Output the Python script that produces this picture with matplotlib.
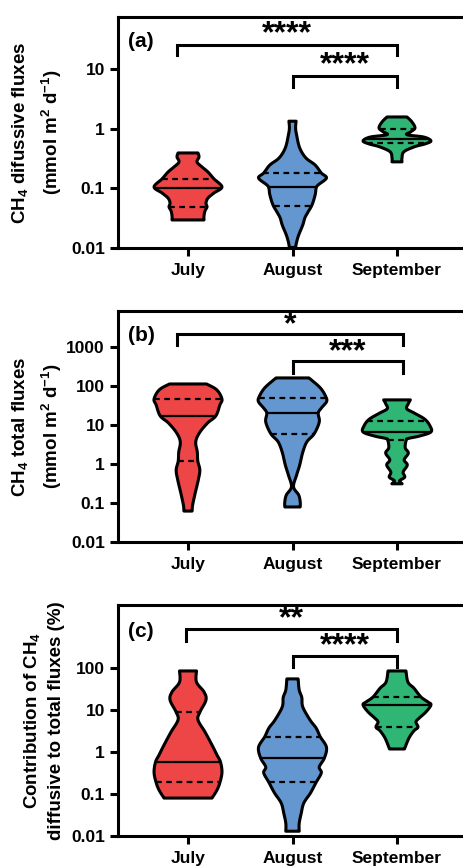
import numpy as np
import matplotlib.pyplot as plt
from matplotlib.ticker import FixedLocator, FixedFormatter, NullLocator

plt.rcParams['font.family'] = 'Liberation Sans'
plt.rcParams['font.weight'] = 'bold'
plt.rcParams['mathtext.fontset'] = 'custom'
plt.rcParams['mathtext.bf'] = 'Liberation Sans:bold'
plt.rcParams['mathtext.rm'] = 'Liberation Sans:bold'
plt.rcParams['mathtext.default'] = 'bf'

months = ['July', 'August', 'September']
colors = ['#EE4646', '#6497D0', '#2FB574']

# violin outlines: value levels and relative width (density) at each level
# (a) diffusive fluxes
a_jul_v = [0.395, 0.338, 0.279, 0.230, 0.189, 0.145, 0.106, 0.084, 0.069, 0.057, 0.049, 0.042, 0.0345, 0.0296]
a_jul_w = [10, 11, 9, 14, 20, 26, 34, 26, 20, 18, 19, 17, 16, 16]
a_aug_v = [1.35, 1.04, 0.79, 0.48, 0.326, 0.248, 0.182, 0.150, 0.115, 0.102, 0.078, 0.053, 0.040, 0.032, 0.0244, 0.0165, 0.0126, 0.0102]
a_aug_w = [3.5, 3, 4, 7, 13, 22, 28, 33, 25, 23, 22, 19, 15, 12, 10, 6, 4, 3]
a_sep_v = [1.59, 1.31, 1.04, 0.90, 0.80, 0.73, 0.63, 0.56, 0.505, 0.415, 0.326, 0.28]
a_sep_w = [10, 15, 18, 14, 10, 27, 34, 28, 18, 7, 5, 5]
a_median = [0.10, 0.107, 0.68]
a_q1 = [0.049, 0.05, 0.575]
a_q3 = [0.145, 0.18, 0.98]

# (b) total fluxes
b_jul_v = [112, 79, 46, 32.6, 17, 11.2, 6.2, 3.66, 2.03, 1.19, 0.70, 0.39, 0.18, 0.089, 0.062]
b_jul_w = [18, 28, 33, 31, 27, 19, 11, 7.5, 9, 9.5, 11.5, 10, 7, 4.5, 4]
b_aug_v = [160, 89, 52, 39, 27, 20, 11.9, 5.9, 3.7, 2.0, 0.94, 0.52, 0.26, 0.16, 0.106, 0.079]
b_aug_w = [16, 27, 32.5, 33, 28, 25, 26, 21, 14, 10, 7, 4, 1, 6, 7.5, 7.5]
b_sep_v = [43.8, 35, 26, 20, 14, 9.5, 6.6, 5.2, 4.5, 4.1, 2.6, 1.9, 1.27, 0.94, 0.62, 0.46, 0.37, 0.31]
b_sep_w = [13, 11, 9.5, 17, 27, 32, 33, 22, 11, 9, 8, 11, 7, 10, 6, 7.5, 2.5, 5]
b_median = [17, 20, 6.6]
b_q1 = [1.2, 5.8, 4.1]
b_q3 = [45, 50, 12.7]

# (c) contribution of diffusive to total (%)
c_jul_v = [85, 46, 27, 17.3, 9.0, 5.8, 3.0, 1.47, 0.85, 0.58, 0.33, 0.19, 0.124, 0.080]
c_jul_w = [8.5, 8.5, 16, 18, 12, 10, 17, 24, 29, 32.5, 34, 32, 29, 24]
c_aug_v = [55, 30, 20, 11.8, 5.8, 3.7, 2.3, 1.3, 0.72, 0.44, 0.32, 0.19, 0.106, 0.061, 0.035, 0.020, 0.013]
c_aug_w = [5.5, 6.5, 9, 10, 17, 23, 27, 33, 31, 26, 28, 23, 17.5, 11, 8.5, 6.5, 6.5]
c_sep_v = [85, 46, 33, 20.4, 15.5, 13.2, 9.0, 6.5, 5.2, 3.9, 3.2, 2.15, 1.18]
c_sep_w = [9, 11, 17, 24, 31, 34, 29, 22.5, 19, 21, 17, 12, 7.5]
c_median = [0.58, 0.72, 13.2]
c_q1 = [0.19, 0.19, 3.9]
c_q3 = [9.0, 2.3, 20.4]

# significance: (x1, x2, label)
a_sig = [(-0.11, 2.0, '****'), (1.0, 2.0, '****')]
b_sig = [(-0.11, 2.06, '*'), (1.0, 2.06, '***')]
c_sig = [(-0.02, 2.0, '**'), (1.0, 2.0, '****')]

LW = 2.2
STAR_FS = 23


def smooth(y, w, n=10):
    # catmull-rom through the outline points (log-value, width)
    pts = np.column_stack([y, w])
    p = np.vstack([pts[0], pts, pts[-1]])
    out = []
    for i in range(1, len(p) - 2):
        p0, p1, p2, p3 = p[i - 1], p[i], p[i + 1], p[i + 2]
        for t in np.linspace(0, 1, n, endpoint=False):
            out.append(0.5 * (2 * p1 + (p2 - p0) * t
                              + (2 * p0 - 5 * p1 + 4 * p2 - p3) * t ** 2
                              + (3 * p1 - p0 - 3 * p2 + p3) * t ** 3))
    out.append(pts[-1])
    out = np.array(out)
    return out[:, 0], np.clip(out[:, 1], 0.004, None)


def draw_violin(ax, x, vals, dens, color, med, q1, q3):
    lv = np.log10(np.array(vals, dtype=float))
    w = np.array(dens, dtype=float)
    w = w / w.max() * 0.325
    sy, sw = smooth(lv, w)
    v = 10 ** sy
    xs = np.concatenate([x + sw, (x - sw)[::-1]])
    ys = np.concatenate([v, v[::-1]])
    ax.fill(xs, ys, facecolor=color, edgecolor='none', zorder=2)
    order = np.argsort(sy)
    for q, ls in [(med, '-'), (q1, (0, (2.6, 2.0))), (q3, (0, (2.6, 2.0)))]:
        hw = np.interp(np.log10(q), sy[order], sw[order])
        ax.plot([x - hw, x + hw], [q, q], color='black', lw=1.6, ls=ls,
                solid_capstyle='butt', zorder=3)
    ax.fill(xs, ys, facecolor='none', edgecolor='black', lw=LW,
            joinstyle='round', zorder=4)


def setup(ax, ylim, ticks, labels, ylab1, ylab2, lab_x, tag, tag_y):
    ax.set_yscale('log')
    ax.set_ylim(*ylim)
    ax.set_xlim(-0.67, 2.67)
    ax.yaxis.set_major_locator(FixedLocator(ticks))
    ax.yaxis.set_major_formatter(FixedFormatter(labels))
    ax.yaxis.set_minor_locator(NullLocator())
    ax.set_xticks(range(3))
    ax.set_xticklabels(months)
    ax.tick_params(axis='both', width=LW, length=6, labelsize=12.5, pad=3.5)
    ax.tick_params(axis='x', pad=5)
    ax.spines['right'].set_visible(False)
    for s in ['left', 'bottom', 'top']:
        ax.spines[s].set_linewidth(LW)
    ax.text(lab_x[0], 0.5, ylab1, rotation=90, transform=ax.transAxes,
            ha='center', va='center', fontsize=13.5)
    ax.text(lab_x[1], 0.5, ylab2, rotation=90, transform=ax.transAxes,
            ha='center', va='center', fontsize=13.5)
    ax.text(0.066, tag_y, tag, transform=ax.transAxes, ha='center',
            va='center', fontsize=15)


def brackets(ax, sig, levels):
    tr = ax.get_xaxis_transform()
    # asterisk ink sits well above the text baseline
    drop = 0.43 * STAR_FS * 100 / 72 / 231
    for (x1, x2, lab), (yb, yt, ys) in zip(sig, levels):
        ax.plot([x1, x1, x2, x2], [yt, yb, yb, yt], color='black', lw=LW,
                transform=tr, clip_on=False, solid_joinstyle='miter')
        ax.text((x1 + x2) / 2, ys - drop, lab, transform=tr, ha='center',
                va='baseline', fontsize=STAR_FS)


fig = plt.figure(figsize=(4.63, 8.68), dpi=100)
W = 349 / 463
H = 231 / 868
ax_a = fig.add_axes([118 / 463, (868 - 248) / 868, W, H])
ax_b = fig.add_axes([118 / 463, (868 - 542) / 868, W, H])
ax_c = fig.add_axes([118 / 463, (868 - 836) / 868, W, H])

panels = [
    (ax_a, [(a_jul_v, a_jul_w), (a_aug_v, a_aug_w), (a_sep_v, a_sep_w)],
     a_median, a_q1, a_q3),
    (ax_b, [(b_jul_v, b_jul_w), (b_aug_v, b_aug_w), (b_sep_v, b_sep_w)],
     b_median, b_q1, b_q3),
    (ax_c, [(c_jul_v, c_jul_w), (c_aug_v, c_aug_w), (c_sep_v, c_sep_w)],
     c_median, c_q1, c_q3),
]
for ax, shapes, med, q1, q3 in panels:
    for i, (v, w) in enumerate(shapes):
        draw_violin(ax, i, v, w, colors[i], med[i], q1[i], q3[i])

setup(ax_a, (0.01, 76), [0.01, 0.1, 1, 10], ['0.01', '0.1', '1', '10'],
      'CH$_4$ difussive fluxes', '(mmol m$^2$ d$^{-1}$)', (-0.281, -0.189),
      '(a)', 0.892)
setup(ax_b, (0.01, 8300), [0.01, 0.1, 1, 10, 100, 1000],
      ['0.01', '0.1', '1', '10', '100', '1000'],
      'CH$_4$ total fluxes', '(mmol m$^2$ d$^{-1}$)', (-0.281, -0.189),
      '(b)', 0.896)
setup(ax_c, (0.01, 3160), [0.01, 0.1, 1, 10, 100],
      ['0.01', '0.1', '1', '10', '100'],
      'Contribution of CH$_4$', 'diffusive to total fluxes (%)',
      (-0.246, -0.177), '(c)', 0.887)

brackets(ax_a, a_sig, [(0.879, 0.835, 0.948), (0.745, 0.697, 0.814)])
brackets(ax_b, b_sig, [(0.90, 0.853, 0.965), (0.784, 0.732, 0.848)])
brackets(ax_c, c_sig, [(0.896, 0.844, 0.965), (0.779, 0.732, 0.848)])

fig.savefig('out.png', dpi=100)
